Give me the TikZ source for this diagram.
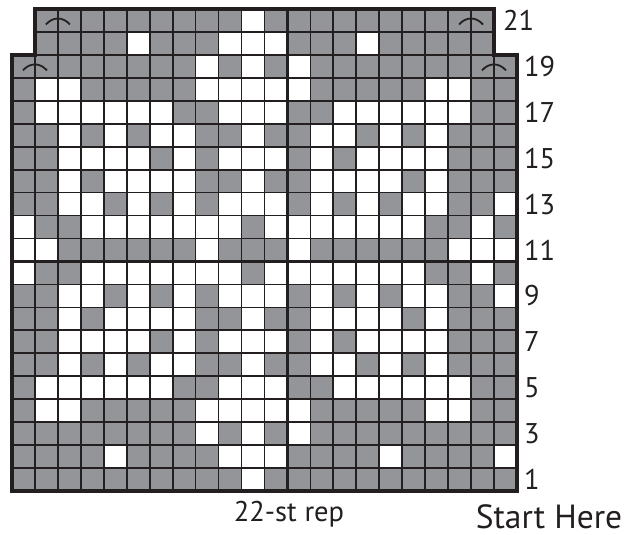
\documentclass[tikz,border=0pt]{standalone}
\usepackage{fontspec}
\setmainfont{PT Sans}
\definecolor{chartgray}{RGB}{147,149,152}
\definecolor{ink}{RGB}{35,31,32}
\newcommand\whiterow[2]{%
  \foreach \c in {#2} {%
    \fill[white] ({12+(\c-1)*\s},{491-#1*\s}) rectangle ({12+\c*\s},{491-(#1-1)*\s});
  }%
}
\newcommand\decarc[2]{% x of boundary, top of row
  \draw[arcline] ({#1-12},{#2+15.5}) .. controls ({#1-5},{#2+7.5}) and ({#1+5},{#2+7.5}) .. ({#1+12},{#2+15.5});
}
\tikzset{
  thinline/.style={ink, line width=1.7pt},
  thickline/.style={ink, line width=2.8pt},
  borderline/.style={ink, line width=4pt, line join=miter},
  arcline/.style={ink, line width=1.8pt},
  rownum/.style={anchor=west, inner sep=0pt, text=ink, font=\fontsize{28.5}{28.5}\selectfont},
  caption/.style={inner sep=0pt, text=ink, anchor=base},
}
\begin{document}
\begin{tikzpicture}[x=1pt,y=-1pt]
\def\s{22.952}
\useasboundingbox (0,0) rectangle (635,535);
% background gray
\fill[chartgray] (12,491) -- (12,{491-19*\s}) -- ({12+\s},{491-19*\s}) -- ({12+\s},{491-21*\s})
  -- ({12+21*\s},{491-21*\s}) -- ({12+21*\s},{491-19*\s}) -- ({12+22*\s},{491-19*\s}) -- ({12+22*\s},491) -- cycle;
% white cells
\whiterow{1}{11}
\whiterow{2}{5,10,11,12,17,22}
\whiterow{3}{9,11,13}
\whiterow{4}{2,3,9,10,11,12,13,19,20}
\whiterow{5}{2,3,4,5,6,7,10,11,12,15,16,17,18,19,20}
\whiterow{6}{3,5,7,8,11,14,15,17,19}
\whiterow{7}{3,4,5,6,8,10,11,12,14,16,17,18,19}
\whiterow{8}{3,5,6,7,8,11,14,15,16,17,19}
\whiterow{9}{3,4,6,8,10,11,12,14,16,18,19,22}
\whiterow{10}{1,4,5,6,7,8,9,10,12,13,14,15,16,17,18,21}
\whiterow{11}{1,2,9,13,20,21,22}
\whiterow{12}{1,4,5,6,7,8,9,10,12,13,14,15,16,17,18,21}
\whiterow{13}{3,4,6,8,10,11,12,14,16,18,19,22}
\whiterow{14}{3,5,6,7,8,11,14,15,16,17,19}
\whiterow{15}{3,4,5,6,8,10,11,12,14,16,17,18,19}
\whiterow{16}{3,5,7,8,11,14,15,17,19}
\whiterow{17}{2,3,4,5,6,7,10,11,12,15,16,17,18,19,20}
\whiterow{18}{2,3,9,10,11,12,13,19,20}
\whiterow{19}{9,11,13}
\whiterow{20}{6,10,11,12,16}
\whiterow{21}{11}
% thin grid lines
\foreach \k in {1,...,18} \draw[thinline] (12,{491-\k*\s}) -- ({12+22*\s},{491-\k*\s});
\foreach \k in {19,20} \draw[thinline] ({12+\s},{491-\k*\s}) -- ({12+21*\s},{491-\k*\s});
\foreach \c in {1,21} \draw[thinline] ({12+\c*\s},491) -- ({12+\c*\s},{491-19*\s});
\foreach \c in {2,...,20} \draw[thinline] ({12+\c*\s},491) -- ({12+\c*\s},{491-21*\s});
% thick lines
\draw[thickline] ({12+2*\s},491) -- ({12+2*\s},{491-21*\s});
\draw[thickline] ({12+12*\s},491) -- ({12+12*\s},{491-21*\s});
\draw[thickline] (12,{491-10*\s}) -- ({12+22*\s},{491-10*\s});
% border
\draw[borderline] (12,491) -- (12,{491-19*\s}) -- ({12+\s},{491-19*\s}) -- ({12+\s},{491-21*\s})
  -- ({12+21*\s},{491-21*\s}) -- ({12+21*\s},{491-19*\s}) -- ({12+22*\s},{491-19*\s}) -- ({12+22*\s},491) -- cycle;
% decrease arcs
\decarc{(12+2*\s)}{(491-21*\s)}
\decarc{(12+20*\s)}{(491-21*\s)}
\decarc{(12+\s)}{(491-19*\s)}
\decarc{(12+21*\s)}{(491-19*\s)}
% row numbers
\foreach \r in {1,3,...,19} \node[rownum] (row\r) at (524,{491-(\r-0.5)*\s}) {\r};
\node[rownum] (row21) at (503,{491-20.5*\s}) {21};
% captions
\node[caption, font=\fontsize{28.5}{28.5}\selectfont] (rep) at (289,521.5) {22-st rep};
\node[caption, font=\fontsize{33.5}{33.5}\selectfont] (start) at (549,528) {Start Here};
\end{tikzpicture}
\end{document}
